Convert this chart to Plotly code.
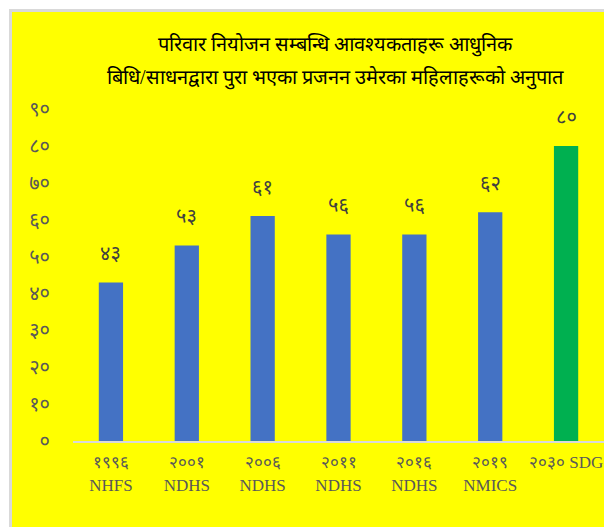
import plotly.graph_objects as go

# data
years = ["१९९६", "२००१", "२००६", "२०११", "२०१६", "२०१९", "२०३०"]
surveys = ["NHFS", "NDHS", "NDHS", "NDHS", "NDHS", "NMICS", "SDG"]
values = [43, 53, 61, 56, 56, 62, 80]
bar_colors = ["#4472C4"] * 6 + ["#00B050"]
y_ticks = [0, 10, 20, 30, 40, 50, 60, 70, 80, 90]

title_1 = "परिवार नियोजन सम्बन्धि आवश्यकताहरू आधुनिक"
title_2 = "बिधि/साधनद्वारा पुरा भएका प्रजनन उमेरका महिलाहरूको अनुपात"

NP_DIGITS = str.maketrans("0123456789", "०१२३४५६७८९")


def to_np(n):
    return str(n).translate(NP_DIGITS)


labels = []
for yr, sv in zip(years, surveys):
    if sv == "SDG":
        labels.append(yr + " SDG")
    else:
        labels.append(yr + "<br>" + sv)

fig = go.Figure()
fig.add_trace(go.Bar(
    x=labels,
    y=values,
    marker=dict(color=bar_colors, line=dict(width=0)),
    hoverinfo="skip",
))

# value labels above bars
for lab, v in zip(labels, values):
    fig.add_annotation(
        x=lab, y=v, text=to_np(v), showarrow=False,
        yanchor="bottom", yshift=14,
        font=dict(size=20, color="#404040", family="Noto Sans"),
    )

# title, two lines with wide spacing
fig.add_annotation(
    xref="paper", yref="paper", x=0.495, y=1.193, text=title_1,
    showarrow=False, xanchor="center", yanchor="middle",
    font=dict(size=20, color="black"),
)
fig.add_annotation(
    xref="paper", yref="paper", x=0.495, y=1.093, text=title_2,
    showarrow=False, xanchor="center", yanchor="middle",
    font=dict(size=20, color="black"),
)

# yellow panel with light border
fig.add_shape(
    type="rect", xref="paper", yref="paper", layer="below",
    x0=-0.1177, x1=1.02, y0=-0.3, y1=1.297,
    fillcolor="#FFFF00", line=dict(color="#D9D9D9", width=3),
)

fig.update_layout(
    width=596, height=519,
    margin=dict(l=65, r=0, t=101, b=86),
    paper_bgcolor="white",
    plot_bgcolor="rgba(0,0,0,0)",
    showlegend=False,
    bargap=0.68,
    font=dict(family="Liberation Serif", color="#595959"),
)
fig.update_xaxes(
    range=[-0.5, 6.5],
    showline=True, linecolor="#D9D9D9", linewidth=2,
    showgrid=False, ticks="outside", ticklen=5, tickcolor="rgba(0,0,0,0)",
    tickfont=dict(size=17, color="#595959", family="Liberation Serif"),
)
fig.update_yaxes(
    range=[0, 90], showgrid=False, zeroline=False, showline=False,
    tickvals=y_ticks, ticktext=[to_np(t) for t in y_ticks],
    ticklabelstandoff=22,
    tickfont=dict(size=20, color="#595959", family="Noto Sans"),
)

fig.write_html("out.html")
